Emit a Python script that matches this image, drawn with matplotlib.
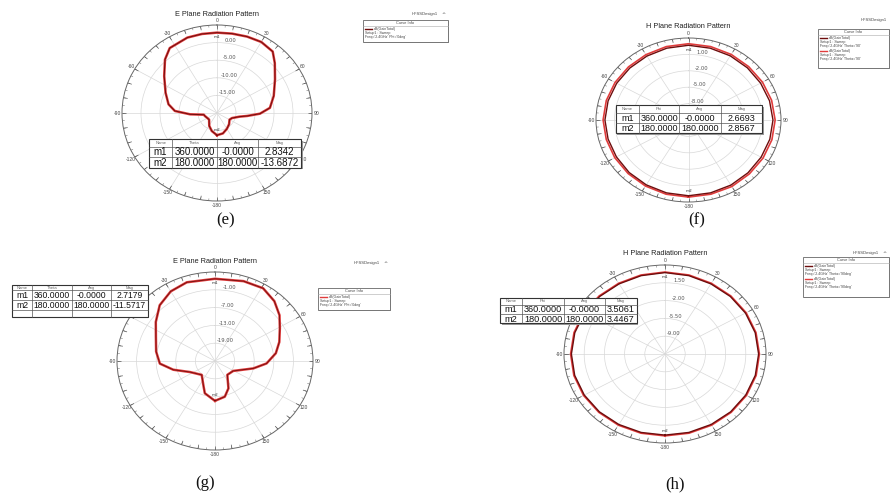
import numpy as np
import matplotlib.pyplot as plt
from matplotlib.patches import Rectangle

W, H = 891, 494

# (e) E plane gain, dB vs theta (deg)
e_theta = [-180, -165, -151, -132, -115, -105, -98, -93, -87, -79, -67, -53, -42, -34,
           -20, -10, 0, 10, 20, 30, 40, 47, 58, 72, 84, 91, 96, 100, 110, 120, 135,
           150, 165, 180]
e_gain = [-13.6872, -14.7, -15.8, -17.2, -17.0, -16.7, -16.5, -12.9, -8.9, -7.0, -5.3,
          -2.6, 0.45, 2.25, 2.8, 2.8, 2.8342, 2.9, 3.1, 3.3, 2.8, 0.8, -2.0, -4.3, -6.0,
          -8.7, -12.0, -14.0, -15.8, -16.2, -15.5, -14.8, -14.0, -13.6872]

# (f) H plane gain, two cuts
f_theta = [-180, -165, -150, -135, -120, -105, -90, -75, -60, -45, -30, -15, 0,
           15, 30, 45, 60, 75, 90, 105, 120, 135, 150, 165, 180]
f_gain1 = [2.8567, 2.8, 2.7, 2.6, 2.5, 2.5, 2.55, 2.5, 2.45, 2.45, 2.5, 2.6, 2.6693,
           2.6, 2.55, 2.5, 2.5, 2.6, 2.7, 2.65, 2.6, 2.65, 2.75, 2.8, 2.8567]
f_gain2 = [3.1, 3.05, 2.95, 2.85, 2.8, 2.8, 2.85, 2.8, 2.75, 2.75, 2.8, 2.9, 2.95,
           2.9, 2.85, 2.8, 2.85, 2.95, 3.05, 3.0, 2.95, 2.95, 3.05, 3.05, 3.1]

# (g) E plane gain
g_theta = [-180, -175, -164, -156, -139, -116, -103, -93, -80, -66, -54, -42, -30, -18,
           0, 18, 31, 42, 52, 61, 72, 82, 93, 102, 121, 141, 156, 166, 180]
g_gain = [-11.5717, -12.4, -13.7, -16.2, -18.8, -16.5, -11.9, -8.1, -6.7, -5.2, -2.6,
          0.3, 2.1, 2.9, 2.7179, 3.3, 3.6, 2.15, 0.06, -2.3, -4.3, -6.2, -9.2, -13.0,
          -18.5, -19.0, -14.9, -12.6, -11.5717]

# (h) H plane gain, two cuts
h_theta = f_theta
h_gain1 = [3.4467, 3.47, 3.5, 3.58, 3.65, 3.7, 3.72, 3.68, 3.6, 3.5, 3.42, 3.45, 3.5061,
           3.45, 3.42, 3.5, 3.6, 3.68, 3.72, 3.7, 3.65, 3.58, 3.5, 3.47, 3.4467]
h_gain2 = [3.6, 3.62, 3.66, 3.72, 3.8, 3.85, 3.86, 3.82, 3.74, 3.64, 3.56, 3.58, 3.62,
           3.58, 3.56, 3.64, 3.74, 3.82, 3.86, 3.85, 3.8, 3.72, 3.66, 3.62, 3.6]

theta_labels = ['0', '30', '60', '90', '120', '150', '-180',
                '-150', '-120', '-90', '-60', '-30']

tables = {
    'e': [['Name', 'Theta', 'Ang', 'Mag'],
          ['m1', '360.0000', '-0.0000', '2.8342'],
          ['m2', '180.0000', '180.0000', '-13.6872']],
    'f': [['Name', 'Phi', 'Ang', 'Mag'],
          ['m1', '360.0000', '-0.0000', '2.6693'],
          ['m2', '180.0000', '180.0000', '2.8567']],
    'g': [['Name', 'Theta', 'Ang', 'Mag'],
          ['m1', '360.0000', '-0.0000', '2.7179'],
          ['m2', '180.0000', '180.0000', '-11.5717'],
          ['', '', '', '']],
    'h': [['Name', 'Phi', 'Ang', 'Mag'],
          ['m1', '360.0000', '-0.0000', '3.5061'],
          ['m2', '180.0000', '180.0000', '3.4467']],
}

RED = '#e03c3c'
DARK = '#6e0d0d'


def px_box(left, top, right, bottom):
    return [left / W, 1 - bottom / H, (right - left) / W, (bottom - top) / H]


def polar_panel(fig, box, rmin, rmax, rings, title, title_y, labels=theta_labels):
    ax = fig.add_axes(px_box(*box), projection='polar')
    ax.set_aspect('auto')
    ax.set_theta_zero_location('N')
    ax.set_theta_direction(-1)
    ax.set_ylim(rmin, rmax)
    ax.set_yticks(rings)
    ax.set_yticklabels([f'{r:.2f}' for r in rings], fontsize=3.8, color='#555')
    ax.set_rlabel_position(6)
    ax.set_xticks(np.radians(np.arange(0, 360, 30)))
    ax.set_xticklabels(labels, fontsize=3.6, color='#444',
                       family='Liberation Sans')
    ax.tick_params(axis='x', length=0, pad=-4)
    ax.grid(True, color='#d8d8d8', linewidth=0.5)
    ax.spines['polar'].set_color('#666')
    ax.spines['polar'].set_linewidth(0.7)

    # tick marks around the rim: every 5 deg, longer every 10 deg
    span = rmax - rmin
    fine = np.radians(np.arange(0, 360, 5))
    coarse = np.radians(np.arange(0, 360, 10))
    ax.vlines(fine, rmax - 0.025 * span, rmax, color='#777', lw=0.4)
    ax.vlines(coarse, rmax - 0.045 * span, rmax, color='#555', lw=0.5)
    ax.set_ylim(rmin, rmax)

    cx = (box[0] + box[2]) / 2
    fig.text(cx / W, 1 - title_y / H, title, ha='center', va='center',
             fontsize=5.3, family='Liberation Sans', color='#222')
    return ax


def plot_cut(ax, theta, gain, color, lw):
    ax.plot(np.radians(theta), gain, color=color, lw=lw, solid_joinstyle='round')


def mark(ax, theta, gain, name, dr):
    ax.text(np.radians(theta), gain + dr, name, fontsize=3, color='#333',
            ha='center', va='center')


def draw_table(ov, cols, rows_y, cells, fs):
    x0, x1 = cols[0], cols[-1]
    y0, y1 = rows_y[0], rows_y[-1]
    ov.add_patch(Rectangle((x0 + 1.5, y0 + 1.5), x1 - x0, y1 - y0,
                           facecolor='#9a9a9a', edgecolor='none'))
    ov.add_patch(Rectangle((x0, y0), x1 - x0, y1 - y0, facecolor='white',
                           edgecolor='#333', lw=0.8))
    for x in cols[1:-1]:
        ov.plot([x, x], [y0, y1], color='#555', lw=0.5)
    for y in rows_y[1:-1]:
        ov.plot([x0, x1], [y, y], color='#555', lw=0.5)
    for i, row in enumerate(cells):
        yc = (rows_y[i] + rows_y[i + 1]) / 2
        for j, txt in enumerate(row):
            xc = (cols[j] + cols[j + 1]) / 2
            if i == 0:
                ov.text(xc, yc, txt, fontsize=3, color='#666', ha='center',
                        va='center', family='Liberation Sans')
            else:
                ov.text(xc, yc + 0.3, txt, fontsize=fs, color='#111', ha='center',
                        va='center', family='Liberation Sans')


def draw_legend(ov, x0, y0, x1, y1, entries, head_y, caret=True):
    right = x1 - 10 if caret else x1 - 2
    ov.text(right, head_y, 'HFSSDesign1', fontsize=3, color='#444',
            ha='right', va='center', family='Liberation Sans')
    if caret:
        ov.text(x1 - 2, head_y, '^', fontsize=3.5, color='#444', ha='right',
                va='center')
    ov.add_patch(Rectangle((x0 + 1, y0 + 1), x1 - x0, y1 - y0,
                           facecolor='#b0b0b0', edgecolor='none'))
    ov.add_patch(Rectangle((x0, y0), x1 - x0, y1 - y0, facecolor='white',
                           edgecolor='#666', lw=0.6))
    ov.text((x0 + x1) / 2, y0 + 3, 'Curve Info', fontsize=2.8, color='#444',
            ha='center', va='center', family='Liberation Sans')
    ov.plot([x0, x1], [y0 + 6, y0 + 6], color='#aaa', lw=0.4)
    y = y0 + 9
    for color, freq in entries:
        ov.plot([x0 + 2, x0 + 9], [y, y], color=color, lw=1.0)
        ov.text(x0 + 11, y, 'dB(GainTotal)', fontsize=2.6, color='#444',
                va='center', family='Liberation Sans')
        ov.text(x0 + 2, y + 4, 'Setup1 : Sweep', fontsize=2.6, color='#444',
                va='center', family='Liberation Sans')
        ov.text(x0 + 2, y + 8, freq, fontsize=2.6, color='#444',
                va='center', family='Liberation Sans')
        y += 13


fig = plt.figure(figsize=(W / 100, H / 100), dpi=100)
fig.patch.set_facecolor('white')

# (e)
ax = polar_panel(fig, (122, 25, 312, 201), -20, 5, [-15, -10, -5, 0],
                 'E Plane Radiation Pattern', 14)
plot_cut(ax, e_theta, e_gain, RED, 1.8)
plot_cut(ax, e_theta, e_gain, DARK, 0.7)
mark(ax, 0, e_gain[e_theta.index(0)], 'm1', -1.3)
mark(ax, 180, e_gain[-1], 'm2', -1.5)

# (f)
ax = polar_panel(fig, (596, 38, 781, 202), -11, 4, [-8, -5, -2, 1],
                 'H Plane Radiation Pattern', 26)
plot_cut(ax, f_theta, f_gain2, RED, 1.2)
plot_cut(ax, f_theta, f_gain1, DARK, 1.0)
mark(ax, 0, f_gain1[f_theta.index(0)], 'm1', -0.8)
mark(ax, 180, f_gain1[-1], 'm2', -0.8)

# (g)
ax = polar_panel(fig, (117, 272, 313, 450), -25, 5, [-19, -13, -7, -1],
                 'E Plane Radiation Pattern', 261)
plot_cut(ax, g_theta, g_gain, RED, 1.8)
plot_cut(ax, g_theta, g_gain, DARK, 0.6)
mark(ax, 0, g_gain[g_theta.index(0)], 'm1', -1.5)
mark(ax, 180, g_gain[-1], 'm2', -1.8)

# (h) -- the marker table sits over the -60 label
h_labels = [t if t != '-60' else '' for t in theta_labels]
ax = polar_panel(fig, (564, 265, 766, 443), -12.5, 5, [-9, -5.5, -2, 1.5],
                 'H Plane Radiation Pattern', 253, h_labels)
plot_cut(ax, h_theta, h_gain2, RED, 1.2)
plot_cut(ax, h_theta, h_gain1, DARK, 1.0)
mark(ax, 0, h_gain1[h_theta.index(0)], 'm1', -0.9)
mark(ax, 180, h_gain1[-1], 'm2', -0.9)

# overlay in pixel coordinates for marker tables, legends and captions
ov = fig.add_axes([0, 0, 1, 1])
ov.set_zorder(10)
ov.set_xlim(0, W)
ov.set_ylim(H, 0)
ov.axis('off')

draw_table(ov, [149, 172.3, 216.7, 258.3, 301], [139, 146.7, 156.7, 167.7],
           tables['e'], 7)
draw_table(ov, [615.7, 639, 679, 720.7, 762.3], [105, 113, 123, 133],
           tables['f'], 6.5)
draw_table(ov, [11.7, 32.3, 71.7, 111, 147.7], [285, 290, 300, 310, 316.7],
           tables['g'], 6.2)
draw_table(ov, [500, 521.7, 564.3, 605, 636.7], [297.7, 305, 314.3, 323.3],
           tables['h'], 6.6)

draw_legend(ov, 363, 20, 448, 42, [(DARK, "Freq='2.4GHz' Phi='0deg'")], 14)
draw_legend(ov, 818, 29, 889, 68,
            [(DARK, "Freq='2.4GHz' Theta='90'"),
             (RED, "Freq='2.4GHz' Theta='90'")], 20, caret=False)
draw_legend(ov, 318, 288, 390, 310, [(RED, "Freq='2.4GHz' Phi='0deg'")], 263)
draw_legend(ov, 803, 257, 889, 297,
            [(DARK, "Freq='2.4GHz' Theta='90deg'"),
             (RED, "Freq='2.4GHz' Theta='90deg'")], 253)

for label, x, y in [('(e)', 226, 220), ('(f)', 697, 220),
                    ('(g)', 205, 483), ('(h)', 675, 484)]:
    ov.text(x, y, label, fontsize=12, family='Liberation Serif', color='#111',
            ha='center', va='center')

fig.savefig('out.png', dpi=100)
